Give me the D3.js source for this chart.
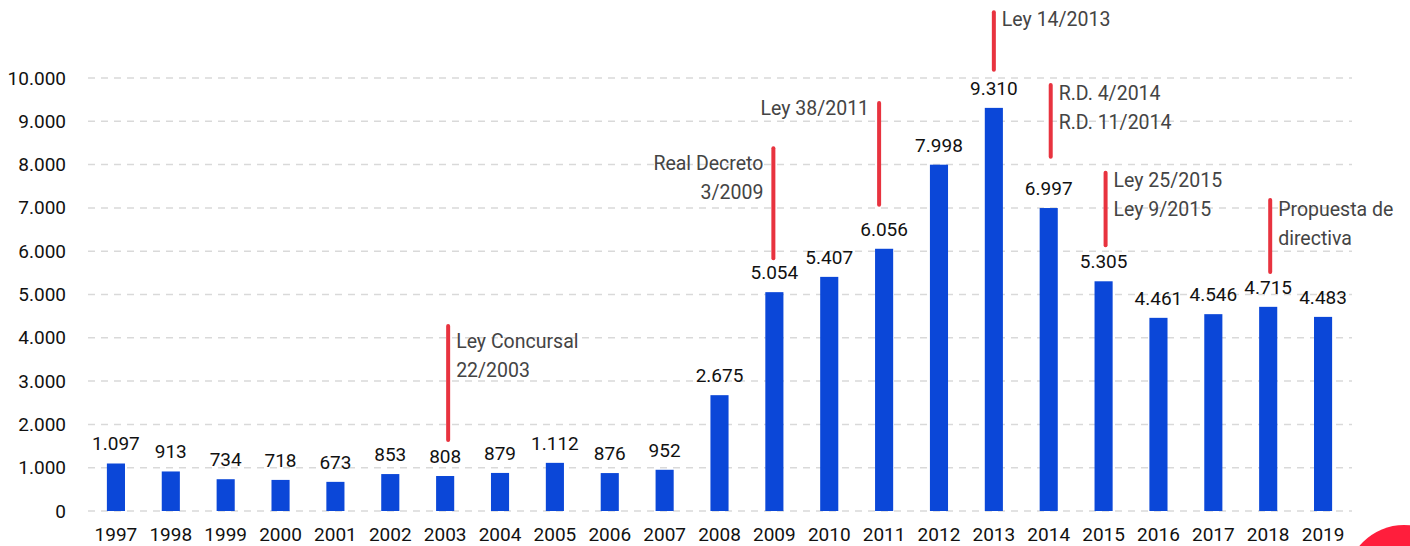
<!DOCTYPE html>
<html>
<head>
<meta charset="utf-8">
<script src="https://cdn.jsdelivr.net/npm/d3@7"></script>
<style>
  body { margin: 0; background: #fff; overflow: hidden; }
  svg text { font-family: Roboto, "Open Sans", sans-serif; }
</style>
</head>
<body>
<div id="chart"></div>
<script>
// data
const years = ["1997", "1998", "1999", "2000", "2001", "2002", "2003", "2004", "2005", "2006", "2007", "2008",
    "2009", "2010", "2011", "2012", "2013", "2014", "2015", "2016", "2017", "2018", "2019"];
const values = [1097, 913, 734, 718, 673, 853, 808, 879, 1112, 876, 952, 2675,
    5054, 5407, 6056, 7998, 9310, 6997, 5305, 4461, 4546, 4715, 4483];
const yTicks = [0, 1000, 2000, 3000, 4000, 5000, 6000, 7000, 8000, 9000, 10000];

// annotations: year, top / bottom of the red marker (in chart units), text lines, side
const noteYears = ["2003", "2009", "2011", "2013", "2014", "2015", "2018"];
const noteTop = [4270, 8380, 9420, 11520, 9840, 7810, 7180];
const noteBottom = [1640, 5840, 7070, 10190, 8180, 6140, 5520];
const noteTexts = [
    ["Ley Concursal", "22/2003"],
    ["Real Decreto", "3/2009"],
    ["Ley 38/2011"],
    ["Ley 14/2013"],
    ["R.D. 4/2014", "R.D. 11/2014"],
    ["Ley 25/2015", "Ley 9/2015"],
    ["Propuesta de", "directiva"]
];
const noteSide = ["right", "left", "left", "right", "right", "right", "right"];
const noteShift = [3, -1, -5, 0, 2, 2, 2];
const noteTextDrop = [22, 22, 12, 14, 15, 14, 16];

const fullWidth = 1410, fullHeight = 546;

const svg = d3.select("#chart")
    .append("svg")
    .attr("width", fullWidth)
    .attr("height", fullHeight);

const x = d3.scaleBand()
    .domain(years)
    .range([88.5, 1350.5])
    .paddingInner(0.67)
    .paddingOuter(0.335);

const y = d3.scaleLinear()
    .domain([0, 10000])
    .range([511, 78]);

const fmt = d => d3.format(",")(d).replace(/,/g, ".");

// gridlines
svg.append("g")
    .selectAll("line")
    .data(yTicks)
    .enter().append("line")
    .attr("x1", 88)
    .attr("x2", 1352)
    .attr("y1", d => y(d))
    .attr("y2", d => y(d))
    .attr("stroke", "#d9d9d9")
    .attr("stroke-width", 1.5)
    .attr("stroke-dasharray", "7,6");

// y axis labels
const yAxis = svg.append("g")
    .attr("transform", "translate(66,0)")
    .call(d3.axisLeft(y).tickValues(yTicks).tickSize(0).tickPadding(0).tickFormat(fmt));
yAxis.select(".domain").remove();
yAxis.selectAll("text")
    .attr("font-size", "19px")
    .attr("fill", "#111")
    .attr("font-family", "Roboto, sans-serif");

// x axis labels
const xAxis = svg.append("g")
    .attr("transform", "translate(0,527.5)")
    .call(d3.axisBottom(x).tickSize(0).tickPadding(0));
xAxis.select(".domain").remove();
xAxis.selectAll("text")
    .attr("font-size", "19px")
    .attr("fill", "#111")
    .attr("font-family", "Roboto, sans-serif");

// bars
svg.selectAll(".bar")
    .data(values)
    .enter().append("rect")
    .attr("class", "bar")
    .attr("fill", "#0b47d8")
    .attr("x", (d, i) => x(years[i]))
    .attr("width", x.bandwidth())
    .attr("y", d => y(d))
    .attr("height", d => y(0) - y(d));

// value labels
svg.selectAll(".val")
    .data(values)
    .enter().append("text")
    .attr("class", "val")
    .attr("text-anchor", "middle")
    .attr("font-size", "19px")
    .attr("fill", "#111")
    .attr("x", (d, i) => x(years[i]) + x.bandwidth() / 2)
    .attr("y", d => y(d) - 13)
    .text(fmt);

// annotations
noteYears.forEach((yr, i) => {
    const cx = x(yr) + x.bandwidth() / 2 + noteShift[i];
    svg.append("line")
        .attr("x1", cx).attr("x2", cx)
        .attr("y1", y(noteTop[i])).attr("y2", y(noteBottom[i]))
        .attr("stroke", "#e8333f")
        .attr("stroke-width", 4)
        .attr("stroke-linecap", "round");
    const left = noteSide[i] == "left";
    const t = svg.append("text")
        .attr("text-anchor", left ? "end" : "start")
        .attr("font-size", "19.5px")
        .attr("fill", "#444");
    noteTexts[i].forEach((s, j) => {
        t.append("tspan")
            .attr("x", left ? cx - 10 : cx + 8)
            .attr("y", y(noteTop[i]) + noteTextDrop[i] + j * 29)
            .text(s);
    });
});

// red corner circle
svg.append("circle")
    .attr("cx", 1404)
    .attr("cy", 583)
    .attr("r", 58)
    .attr("fill", "#ff1e3c");
</script>
</body>
</html>
